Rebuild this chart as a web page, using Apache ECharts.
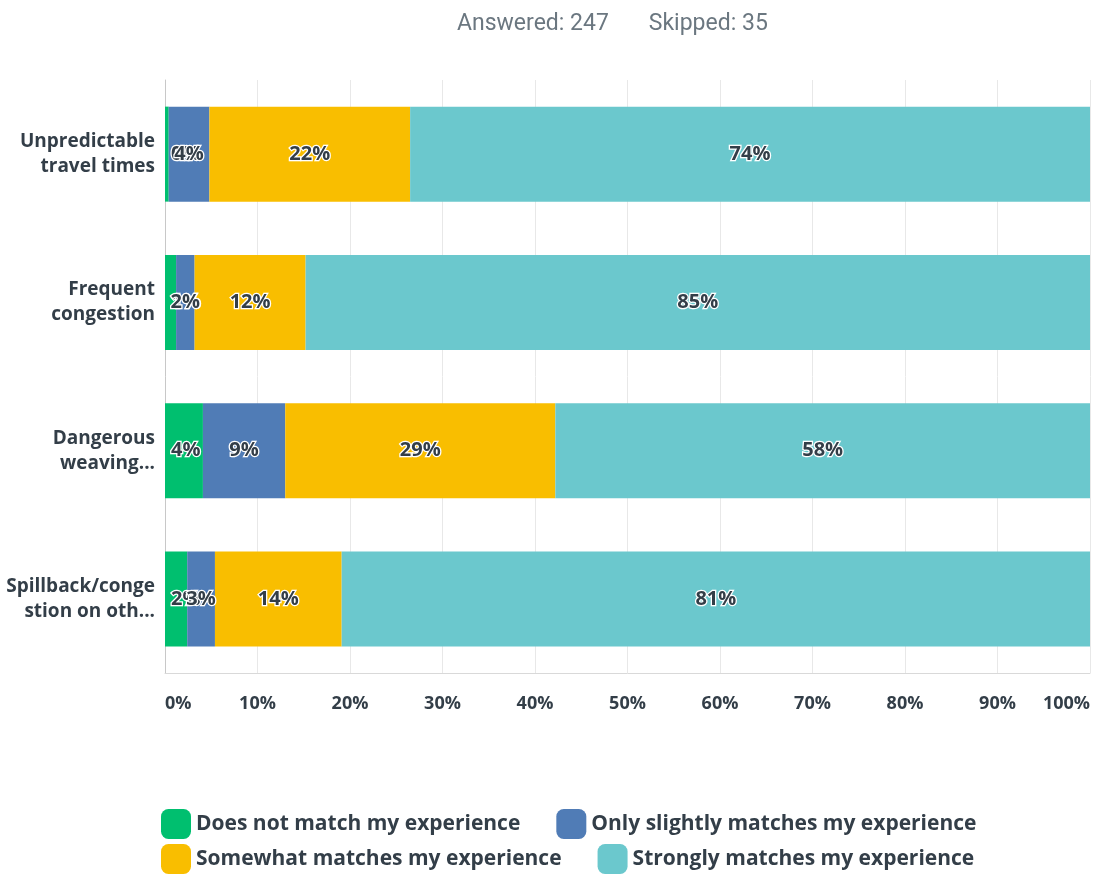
<!DOCTYPE html>
<html>
<head>
<meta charset="utf-8">
<script src="https://cdn.jsdelivr.net/npm/echarts@6/dist/echarts.min.js"></script>
<style>
  html, body { margin: 0; padding: 0; background: #fff; }
  #chart { width: 1094px; height: 874px; }
</style>
</head>
<body>
<div id="chart"></div>
<script>
const categories = [
  'Unpredictable\ntravel times',
  'Frequent\ncongestion',
  'Dangerous\nweaving...',
  'Spillback/conge\nstion on oth...'
];
const seriesNames = [
  'Does not match my experience',
  'Only slightly matches my experience',
  'Somewhat matches my experience',
  'Strongly matches my experience'
];
const doesNotMatch = [0.4, 1.2, 4.1, 2.4];
const slightlyMatches = [4.4, 2.0, 8.9, 3.0];
const somewhatMatches = [21.7, 12.0, 29.2, 13.7];
const stronglyMatches = [73.5, 84.8, 57.8, 80.9];
const colors = ['#00bf6f', '#507cb6', '#f9be00', '#6bc8cd'];
const answered = 247;
const skipped = 35;

const font = '"Open Sans", sans-serif';
const dark = '#333e48';

const values = [doesNotMatch, slightlyMatches, somewhatMatches, stronglyMatches];

const series = values.map((vals, i) => ({
  name: seriesNames[i],
  type: 'bar',
  stack: 'total',
  barWidth: 95,
  data: vals,
  itemStyle: { color: colors[i] },
  label: {
    show: true,
    position: i === 0 ? 'insideLeft' : 'inside',
    distance: 6,
    formatter: (p) => Math.round(p.value) + '%',
    color: dark,
    fontFamily: font,
    fontWeight: 'bold',
    fontSize: 20,
    textBorderColor: '#fff',
    textBorderWidth: 2.5
  }
}));

// a bit wider than default to match the reference's face
const legendText = { color: dark, fontFamily: font, fontWeight: 'bold', fontSize: 21, width: null };

const chart = echarts.init(document.getElementById('chart'));
chart.setOption({
  animation: false,
  title: {
    text: 'Answered: ' + answered + '       Skipped: ' + skipped,
    left: 452,
    top: 8,
    textStyle: {
      color: '#6b7780',
      fontFamily: '"Liberation Sans Narrow", "Roboto", sans-serif',
      fontWeight: 'normal',
      fontSize: 23
    }
  },
  legend: [
    {
      data: seriesNames.slice(0, 2),
      left: 156,
      top: 804,
      icon: 'roundRect',
      itemWidth: 30,
      itemHeight: 30,
      itemGap: 36,
      textStyle: legendText
    },
    {
      data: seriesNames.slice(2, 4),
      left: 156,
      top: 839,
      icon: 'roundRect',
      itemWidth: 30,
      itemHeight: 30,
      itemGap: 36,
      textStyle: legendText
    }
  ],
  grid: { left: 165, right: 4, top: 80, bottom: 201, containLabel: false },
  xAxis: {
    type: 'value',
    min: 0,
    max: 100,
    interval: 10,
    axisLine: { show: true, lineStyle: { color: '#d9d9d9' } },
    axisTick: { show: false },
    splitLine: { show: true, lineStyle: { color: '#e8e8e8' } },
    axisLabel: {
      formatter: '{value}%',
      color: dark,
      fontFamily: font,
      fontWeight: 'bold',
      fontSize: 18,
      margin: 22,
      alignMinLabel: 'left',
      alignMaxLabel: 'right'
    }
  },
  yAxis: {
    type: 'category',
    inverse: true,
    data: categories,
    axisLine: { show: true, lineStyle: { color: '#c8c8c8' } },
    axisTick: { show: false },
    axisLabel: {
      color: dark,
      fontFamily: font,
      fontWeight: 'bold',
      fontSize: 19,
      lineHeight: 25,
      margin: 10
    }
  },
  series: series
});
</script>
</body>
</html>
